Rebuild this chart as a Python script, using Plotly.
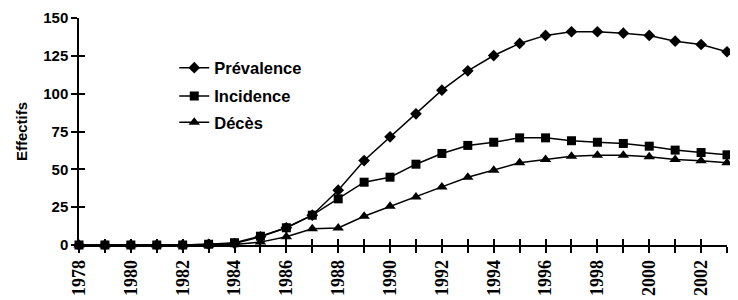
import plotly.graph_objects as go

years = list(range(1978, 2004))
prevalence = [0, 0, 0, 0, 0, 0.5, 1, 5.4, 11.4, 19.7, 36.2, 55.8, 71.5, 86.7, 102.3, 115.1,
              125.2, 133.2, 138.5, 140.9, 140.9, 140.0, 138.5, 134.7, 132.5, 127.7]
incidence = [0, 0, 0, 0, 0, 0.5, 1.5, 5.8, 11.4, 19.7, 30.5, 41.5, 44.8, 53.4, 60.5, 65.8,
             67.9, 70.8, 70.8, 68.9, 67.9, 67.1, 65.3, 62.7, 61.1, 59.6]
deces = [0, 0, 0, 0, 0, 0, 0.3, 1.9, 5.4, 10.7, 11.3, 19.0, 25.6, 31.8, 38.4, 44.8,
         49.4, 54.3, 56.5, 58.7, 59.3, 59.3, 58.3, 56.5, 55.6, 54.3]
tick_labels = [str(y) if (y - 1978) % 2 == 0 else "" for y in years]
y_ticks = [0, 25, 50, 75, 100, 125, 150]

series = [
    ("Prévalence", prevalence, "diamond", 9, "legend", 0.78),
    ("Incidence", incidence, "square", 9, "legend2", 0.655),
    ("Décès", deces, "triangle-up", 10, "legend3", 0.54),
]

sans = "Liberation Sans, Arial"
serif = "Liberation Serif, Times New Roman"

fig = go.Figure()
legends = {}
for name, vals, sym, size, leg, ly in series:
    fig.add_trace(go.Scatter(
        x=years, y=vals, name=name, mode="lines+markers",
        line=dict(color="black", width=1.5),
        marker=dict(symbol=sym, size=size, color="black"),
        cliponaxis=False, legend=leg,
    ))
    legends[leg] = dict(x=0.147, y=ly, xanchor="left", yanchor="middle",
                        bgcolor="rgba(0,0,0,0)",
                        font=dict(family=sans, size=16.5, color="black", weight="bold"))

axis_common = dict(showgrid=False, zeroline=False, showline=True, linecolor="black",
                   linewidth=1.5, tickcolor="black", tickwidth=1.5, ticklen=6)

fig.update_layout(
    width=730, height=292,
    margin=dict(l=71, r=11, t=10, b=55),
    paper_bgcolor="white", plot_bgcolor="white",
    showlegend=True,
    **legends,
    xaxis=dict(range=[1978, 2003], tickmode="array", tickvals=years, ticktext=tick_labels,
               ticks="outside", tickangle=-90, automargin=False,
               tickfont=dict(family=serif, size=18, color="black", weight="bold"),
               **axis_common),
    yaxis=dict(range=[0, 150], tickmode="array", tickvals=y_ticks, ticks="outside",
               automargin=False,
               tickfont=dict(family=sans, size=15, color="black", weight="bold"),
               title=dict(text="Effectifs", standoff=12,
                          font=dict(family=sans, size=15, color="black", weight="bold")),
               **axis_common),
    xaxis2=dict(overlaying="x", matches="x", range=[1978, 2003], tickmode="array",
                tickvals=years, ticks="inside", showticklabels=False, side="bottom",
                anchor="y", **axis_common),
    yaxis2=dict(overlaying="y", matches="y", range=[0, 150], tickmode="array",
                tickvals=y_ticks, ticks="inside", showticklabels=False, side="left",
                anchor="x", **axis_common),
)
# invisible trace that activates the overlay axes (inner half of crossing ticks)
fig.add_trace(go.Scatter(x=[1978], y=[0], xaxis="x2", yaxis="y2", mode="markers",
                         marker=dict(opacity=0), showlegend=False, hoverinfo="skip"))

fig.write_html("out.html")
